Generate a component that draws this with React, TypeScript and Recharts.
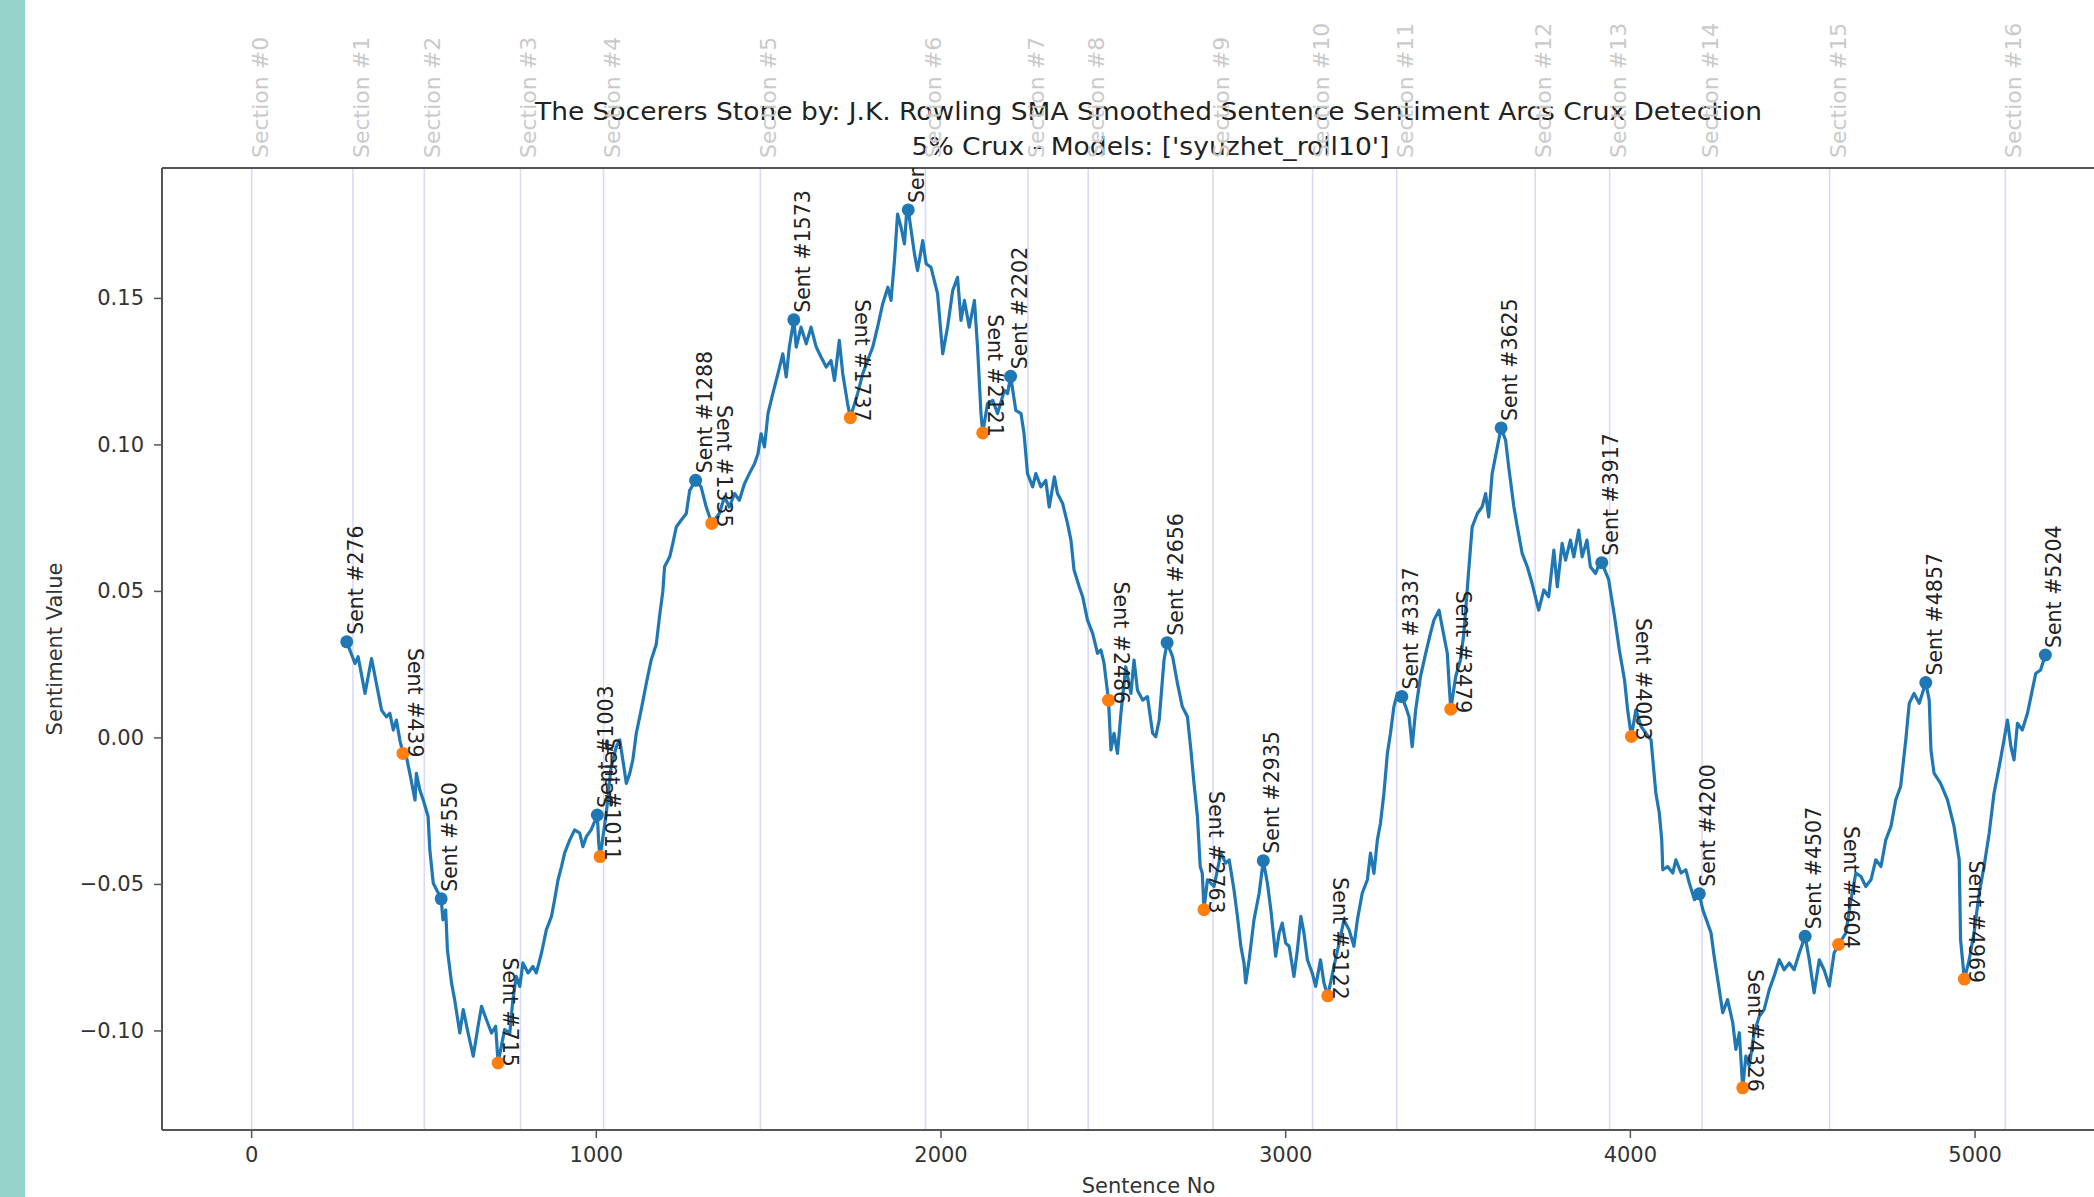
import React from 'react';
import { ComposedChart, Line, Scatter, XAxis, YAxis, ReferenceLine } from 'recharts';

// ---------------- data ----------------
const titleLines = [
  'The Socerers Stone by: J.K. Rowling SMA Smoothed Sentence Sentiment Arcs Crux Detection',
  "5% Crux - Models: ['syuzhet_roll10']",
];
const xAxisLabel = 'Sentence No';
const yAxisLabel = 'Sentiment Value';

const xTicks = [0, 1000, 2000, 3000, 4000, 5000];
const yTicks = [-0.1, -0.05, 0, 0.05, 0.1, 0.15];
const X_DOMAIN = [-260, 5464];
const Y_DOMAIN = [-0.1338, 0.1945];

const sectionX = [0, 294, 501, 780, 1021, 1476, 1955, 2252, 2427, 2789, 3078, 3322, 3724, 3940, 4208, 4578, 5088];

const lineX = [
  276, 300, 309, 329, 338, 348, 362, 377, 391, 401, 411, 420, 430, 439, 449, 459, 474, 478, 488, 498,
  512, 517, 527, 550, 555, 563, 568, 580, 589, 604, 614, 628, 643, 657, 667, 681, 696, 708, 715, 734,
  749, 758, 768, 778, 787, 802, 816, 826, 841, 855, 870, 879, 889, 899, 908, 923, 937, 952, 961, 971,
  985, 1003, 1007, 1011, 1029, 1043, 1058, 1068, 1077, 1087, 1097, 1106, 1116, 1130, 1145, 1159, 1174, 1184, 1193, 1198,
  1213, 1222, 1232, 1246, 1261, 1271, 1288, 1304, 1319, 1335, 1357, 1372, 1386, 1401, 1415, 1430, 1444, 1459, 1469, 1478,
  1488, 1498, 1512, 1527, 1541, 1551, 1560, 1573, 1580, 1594, 1609, 1623, 1638, 1652, 1667, 1681, 1691, 1705, 1715, 1729,
  1737, 1758, 1773, 1787, 1802, 1816, 1831, 1846, 1855, 1865, 1874, 1884, 1894, 1900, 1905, 1923, 1932, 1947, 1957, 1971,
  1990, 2005, 2019, 2034, 2048, 2058, 2068, 2082, 2097, 2106, 2116, 2121, 2135, 2150, 2164, 2184, 2193, 2202, 2217, 2232,
  2241, 2251, 2266, 2275, 2290, 2304, 2314, 2329, 2338, 2353, 2367, 2377, 2386, 2401, 2411, 2425, 2440, 2454, 2464, 2473,
  2486, 2493, 2502, 2512, 2522, 2536, 2551, 2560, 2570, 2585, 2599, 2614, 2623, 2633, 2647, 2656, 2672, 2686, 2700, 2715,
  2725, 2734, 2744, 2752, 2758, 2763, 2773, 2792, 2812, 2826, 2836, 2850, 2860, 2870, 2879, 2884, 2894, 2908, 2923, 2935,
  2947, 2957, 2971, 2981, 2990, 3000, 3010, 3024, 3034, 3044, 3053, 3063, 3077, 3087, 3101, 3111, 3122, 3140, 3155, 3169,
  3184, 3198, 3208, 3222, 3237, 3246, 3256, 3266, 3275, 3285, 3295, 3304, 3314, 3324, 3337, 3348, 3358, 3367, 3377, 3391,
  3406, 3420, 3430, 3445, 3454, 3469, 3474, 3479, 3493, 3507, 3517, 3531, 3541, 3556, 3570, 3580, 3589, 3599, 3614, 3625,
  3638, 3647, 3657, 3662, 3672, 3686, 3701, 3715, 3734, 3749, 3763, 3778, 3788, 3802, 3812, 3826, 3836, 3850, 3860, 3874,
  3884, 3899, 3910, 3917, 3937, 3954, 3968, 3983, 3992, 4003, 4016, 4031, 4045, 4060, 4074, 4084, 4091, 4094, 4108, 4123,
  4132, 4147, 4161, 4171, 4186, 4200, 4210, 4224, 4234, 4243, 4258, 4268, 4282, 4297, 4306, 4316, 4326, 4335, 4345, 4359,
  4374, 4388, 4403, 4417, 4432, 4446, 4461, 4475, 4490, 4507, 4519, 4533, 4548, 4562, 4577, 4591, 4604, 4625, 4640, 4654,
  4669, 4683, 4698, 4712, 4727, 4741, 4756, 4770, 4784, 4799, 4809, 4823, 4838, 4857, 4867, 4872, 4881, 4900, 4920, 4939,
  4954, 4958, 4969, 4983, 4997, 5012, 5026, 5041, 5055, 5070, 5084, 5094, 5104, 5113, 5123, 5137, 5152, 5166, 5176, 5190,
  5204,
];

const lineY = [
  0.0328, 0.0254, 0.0277, 0.0152, 0.0209, 0.0271, 0.0186, 0.0095, 0.0072, 0.0084, 0.0027, 0.0061, -0.0007, -0.0053, -0.0064, -0.0121, -0.0212, -0.0121, -0.0178, -0.0212,
  -0.0268, -0.0382, -0.0496, -0.0549, -0.0621, -0.0587, -0.0723, -0.0836, -0.0893, -0.1007, -0.0927, -0.1007, -0.1086, -0.0984, -0.0916, -0.0961, -0.1007, -0.0984, -0.1109, -0.0995,
  -0.1007, -0.0893, -0.0814, -0.0848, -0.0768, -0.0802, -0.078, -0.0802, -0.0734, -0.0655, -0.0609, -0.0552, -0.0484, -0.0439, -0.0393, -0.0348, -0.0314, -0.0325, -0.0371, -0.0337,
  -0.0314, -0.0263, -0.0359, -0.0405, -0.0257, -0.0098, -0.003, -0.0007, -0.0075, -0.0155, -0.0121, -0.0075, 0.0016, 0.0095, 0.0186, 0.0265, 0.032, 0.042, 0.05, 0.0584,
  0.0618, 0.0664, 0.072, 0.0743, 0.0766, 0.0845, 0.0879, 0.0857, 0.0788, 0.0732, 0.0766, 0.0823, 0.0788, 0.0834, 0.0811, 0.0868, 0.0902, 0.0936, 0.097, 0.1038,
  0.0993, 0.1107, 0.1175, 0.1243, 0.1311, 0.1232, 0.1334, 0.1427, 0.1334, 0.1402, 0.1345, 0.1402, 0.1334, 0.13, 0.1266, 0.1288, 0.122, 0.1357, 0.1243, 0.1141,
  0.1093, 0.1175, 0.1243, 0.1288, 0.1334, 0.1402, 0.1482, 0.1538, 0.1493, 0.1629, 0.1788, 0.1743, 0.1686, 0.1788, 0.1802, 0.1652, 0.1595, 0.1697, 0.1618, 0.1606,
  0.1516, 0.1311, 0.1402, 0.1527, 0.1572, 0.1425, 0.1493, 0.1402, 0.1493, 0.1334, 0.1107, 0.1041, 0.1141, 0.1152, 0.1107, 0.1186, 0.1175, 0.1234, 0.1118, 0.1107,
  0.1038, 0.0902, 0.0857, 0.0902, 0.0857, 0.0879, 0.0788, 0.0891, 0.0834, 0.08, 0.0732, 0.0675, 0.0573, 0.0516, 0.0482, 0.0402, 0.0357, 0.0289, 0.03, 0.0255,
  0.0129, -0.0041, 0.0016, -0.0053, 0.0084, 0.0243, 0.0152, 0.0266, 0.0163, 0.0129, 0.0141, 0.0016, 0.0004, 0.0061, 0.0266, 0.0325, 0.0277, 0.0186, 0.0107, 0.0072,
  -0.0041, -0.0155, -0.0268, -0.0439, -0.0462, -0.0586, -0.0484, -0.0507, -0.0393, -0.0427, -0.0416, -0.0518, -0.0609, -0.0711, -0.0768, -0.0836, -0.0757, -0.0621, -0.053, -0.0419,
  -0.0496, -0.0587, -0.0745, -0.0666, -0.0632, -0.07, -0.0711, -0.0814, -0.0723, -0.0609, -0.0666, -0.0757, -0.0802, -0.0848, -0.0757, -0.0836, -0.088, -0.078, -0.07, -0.0621,
  -0.0655, -0.0711, -0.0621, -0.053, -0.0484, -0.0393, -0.0462, -0.0348, -0.0291, -0.0189, -0.0053, 0.0016, 0.0107, 0.0152, 0.0141, 0.0107, 0.0072, -0.003, 0.0095, 0.0209,
  0.0288, 0.0357, 0.0402, 0.0436, 0.0379, 0.0288, 0.0186, 0.0098, 0.0209, 0.0266, 0.0357, 0.0573, 0.072, 0.0766, 0.0789, 0.0834, 0.0754, 0.0902, 0.0993, 0.1058,
  0.1016, 0.0925, 0.0834, 0.0789, 0.072, 0.063, 0.0584, 0.0527, 0.0436, 0.0505, 0.0482, 0.0641, 0.0516, 0.0664, 0.0607, 0.0675, 0.0618, 0.0709, 0.0618, 0.0675,
  0.0584, 0.0561, 0.0595, 0.0598, 0.054, 0.0414, 0.03, 0.0198, 0.0096, 0.0005, 0.0096, 0.0039, 0.0016, -0.0007, -0.0189, -0.0257, -0.0348, -0.045, -0.0439, -0.0461,
  -0.0416, -0.0461, -0.045, -0.0495, -0.0552, -0.0532, -0.0586, -0.0632, -0.0666, -0.0745, -0.0859, -0.0938, -0.0893, -0.0972, -0.1063, -0.1006, -0.1194, -0.1086, -0.112, -0.1006,
  -0.095, -0.0927, -0.0859, -0.0813, -0.0757, -0.0791, -0.0768, -0.0791, -0.0734, -0.0677, -0.0757, -0.087, -0.0757, -0.0791, -0.0847, -0.0734, -0.0705, -0.0666, -0.0552, -0.0461,
  -0.0473, -0.0507, -0.0484, -0.0416, -0.0439, -0.0348, -0.0302, -0.0211, -0.0166, -0.0007, 0.0118, 0.0152, 0.0118, 0.0189, 0.0129, -0.0041, -0.012, -0.0155, -0.0211, -0.0302,
  -0.0416, -0.0689, -0.0823, -0.0757, -0.0666, -0.053, -0.0439, -0.0325, -0.0189, -0.0098, -0.0007, 0.0061, -0.003, -0.0075, 0.005, 0.0027, 0.0084, 0.0163, 0.022, 0.0232,
  0.0283,
];

const peakX = [276, 550, 1003, 1288, 1573, 1905, 2202, 2656, 2935, 3337, 3625, 3917, 4200, 4507, 4857, 5204];
const peakY = [0.0328, -0.0549, -0.0263, 0.0879, 0.1427, 0.1802, 0.1234, 0.0325, -0.0419, 0.0141, 0.1058, 0.0598, -0.0532, -0.0677, 0.0189, 0.0283];
const valleyX = [439, 715, 1011, 1335, 1737, 2121, 2486, 2763, 3122, 3479, 4003, 4326, 4604, 4969];
const valleyY = [-0.0053, -0.1109, -0.0405, 0.0732, 0.1093, 0.1041, 0.0129, -0.0586, -0.088, 0.0098, 0.0005, -0.1194, -0.0705, -0.0823];

// built from the arrays above
const lineData = lineX.map((x, i) => ({ x, y: lineY[i] }));
const peakData = peakX.map((x, i) => ({ x, y: peakY[i] }));
const valleyData = valleyX.map((x, i) => ({ x, y: valleyY[i] }));

// ---------------- styling ----------------
const FONT = "'DejaVu Sans', 'Liberation Sans', sans-serif";
const BLUE = '#1f77b4';
const ORANGE = '#ff7f0e';
const SPINE = '#555555';
const TEXT = '#333333';

const fmtY = (v: number) => {
  if (Math.abs(v) < 1e-9) return '0.00';
  return (v < 0 ? '\u2212' : '') + Math.abs(v).toFixed(2);
};

const YTick = (props: any) => {
  const { x, y, payload } = props;
  return (
    <text x={x} y={y} textAnchor="end" dominantBaseline="central" fontFamily={FONT} fontSize={21} fill={TEXT}>
      {fmtY(payload.value)}
    </text>
  );
};

const XTick = (props: any) => {
  const { x, y, payload } = props;
  return (
    <text x={x} y={y} dy="0.74em" textAnchor="middle" fontFamily={FONT} fontSize={21} fill={TEXT}>
      {String(payload.value)}
    </text>
  );
};

const SectionTick = (props: any) => {
  const { x, y, index } = props;
  return (
    <text
      transform={`translate(${x + 16},${y - 10}) rotate(-90)`}
      textAnchor="start"
      fontFamily={FONT}
      fontSize={22}
      fill="#cacaca"
    >
      {`Section #${index}`}
    </text>
  );
};

const TitleLabel = (props: any) => {
  const vb = props.viewBox || {};
  const cx = vb.x + vb.width / 2;
  const top = vb.y;
  return (
    <g>
      <text x={cx} y={top - 47} textAnchor="middle" fontFamily={FONT} fontSize={24} fill="#222"
        textLength={1227} lengthAdjust="spacingAndGlyphs">
        {titleLines[0]}
      </text>
      <text x={cx + 2} y={top - 12} textAnchor="middle" fontFamily={FONT} fontSize={24} fill="#222"
        textLength={478} lengthAdjust="spacingAndGlyphs">
        {titleLines[1]}
      </text>
    </g>
  );
};

const XLabel = (props: any) => {
  const vb = props.viewBox || {};
  return (
    <text x={vb.x + vb.width / 2} y={vb.y + 63} textAnchor="middle" fontFamily={FONT} fontSize={21} fill={TEXT}>
      {xAxisLabel}
    </text>
  );
};

const YLabel = (props: any) => {
  const vb = props.viewBox || {};
  const cy = vb.y + vb.height / 2;
  return (
    <text
      transform={`translate(${vb.x - 7},${cy}) rotate(-90)`}
      textAnchor="middle"
      dominantBaseline="central"
      fontFamily={FONT}
      fontSize={21}
      fill={TEXT}
    >
      {yAxisLabel}
    </text>
  );
};

const PeakShape = (props: any) => {
  const { cx, cy, payload } = props;
  if (cx == null || cy == null) return <g />;
  return (
    <g>
      <circle cx={cx} cy={cy} r={6.5} fill={BLUE} />
      <text
        transform={`translate(${cx + 16},${cy - 7}) rotate(-90)`}
        textAnchor="start"
        fontFamily={FONT}
        fontSize={20.5}
        fill="#222"
      >
        {`Sent #${payload.x}`}
      </text>
    </g>
  );
};

const ValleyShape = (props: any) => {
  const { cx, cy, payload } = props;
  if (cx == null || cy == null) return <g />;
  return (
    <g>
      <circle cx={cx} cy={cy} r={6.5} fill={ORANGE} />
      <text
        transform={`translate(${cx + 5},${cy + 4}) rotate(90)`}
        textAnchor="end"
        fontFamily={FONT}
        fontSize={20.5}
        fill="#222"
      >
        {`Sent #${payload.x}`}
      </text>
    </g>
  );
};

export default function App() {
  return (
    <div style={{ position: 'absolute', left: 0, top: 0, width: 2094, height: 1197, overflow: 'hidden', background: '#ffffff' }}>
      <div style={{ position: 'absolute', left: 0, top: 0 }}>
        <ComposedChart width={2145} height={1197} margin={{ top: 167, right: 10, bottom: 7, left: 62 }}>
          <XAxis
            xAxisId="top"
            orientation="top"
            type="number"
            dataKey="x"
            domain={X_DOMAIN}
            allowDataOverflow
            ticks={sectionX}
            interval={0}
            tickLine={false}
            tickSize={0}
            tickMargin={0}
            height={1}
            axisLine={{ stroke: SPINE, strokeWidth: 2 }}
            tick={<SectionTick />}
            label={<TitleLabel />}
          />
          <XAxis
            type="number"
            dataKey="x"
            domain={X_DOMAIN}
            allowDataOverflow
            ticks={xTicks}
            interval={0}
            height={60}
            tickSize={8}
            tickMargin={8}
            tickLine={{ stroke: SPINE, strokeWidth: 1.5 }}
            axisLine={{ stroke: SPINE, strokeWidth: 2 }}
            tick={<XTick />}
            label={<XLabel />}
          />
          <YAxis
            type="number"
            dataKey="y"
            domain={Y_DOMAIN}
            allowDataOverflow
            ticks={yTicks}
            interval={0}
            width={100}
            tickSize={8}
            tickMargin={10}
            tickLine={{ stroke: SPINE, strokeWidth: 1.5 }}
            axisLine={{ stroke: SPINE, strokeWidth: 2 }}
            tick={<YTick />}
            label={<YLabel />}
          />
          {sectionX.map((s) => (
            <ReferenceLine key={`sec-${s}`} x={s} stroke="#dadaf7" strokeWidth={1.6} ifOverflow="visible" />
          ))}
          <Line
            data={lineData}
            dataKey="y"
            type="linear"
            stroke={BLUE}
            strokeWidth={3.2}
            strokeLinejoin="round"
            dot={false}
            activeDot={false}
            isAnimationActive={false}
          />
          <Scatter data={peakData} dataKey="y" shape={<PeakShape />} isAnimationActive={false} />
          <Scatter data={valleyData} dataKey="y" shape={<ValleyShape />} isAnimationActive={false} />
        </ComposedChart>
      </div>
      <div style={{ position: 'absolute', left: 0, top: 0, width: 25, height: 1197, background: '#95d3cb' }} />
    </div>
  );
}
